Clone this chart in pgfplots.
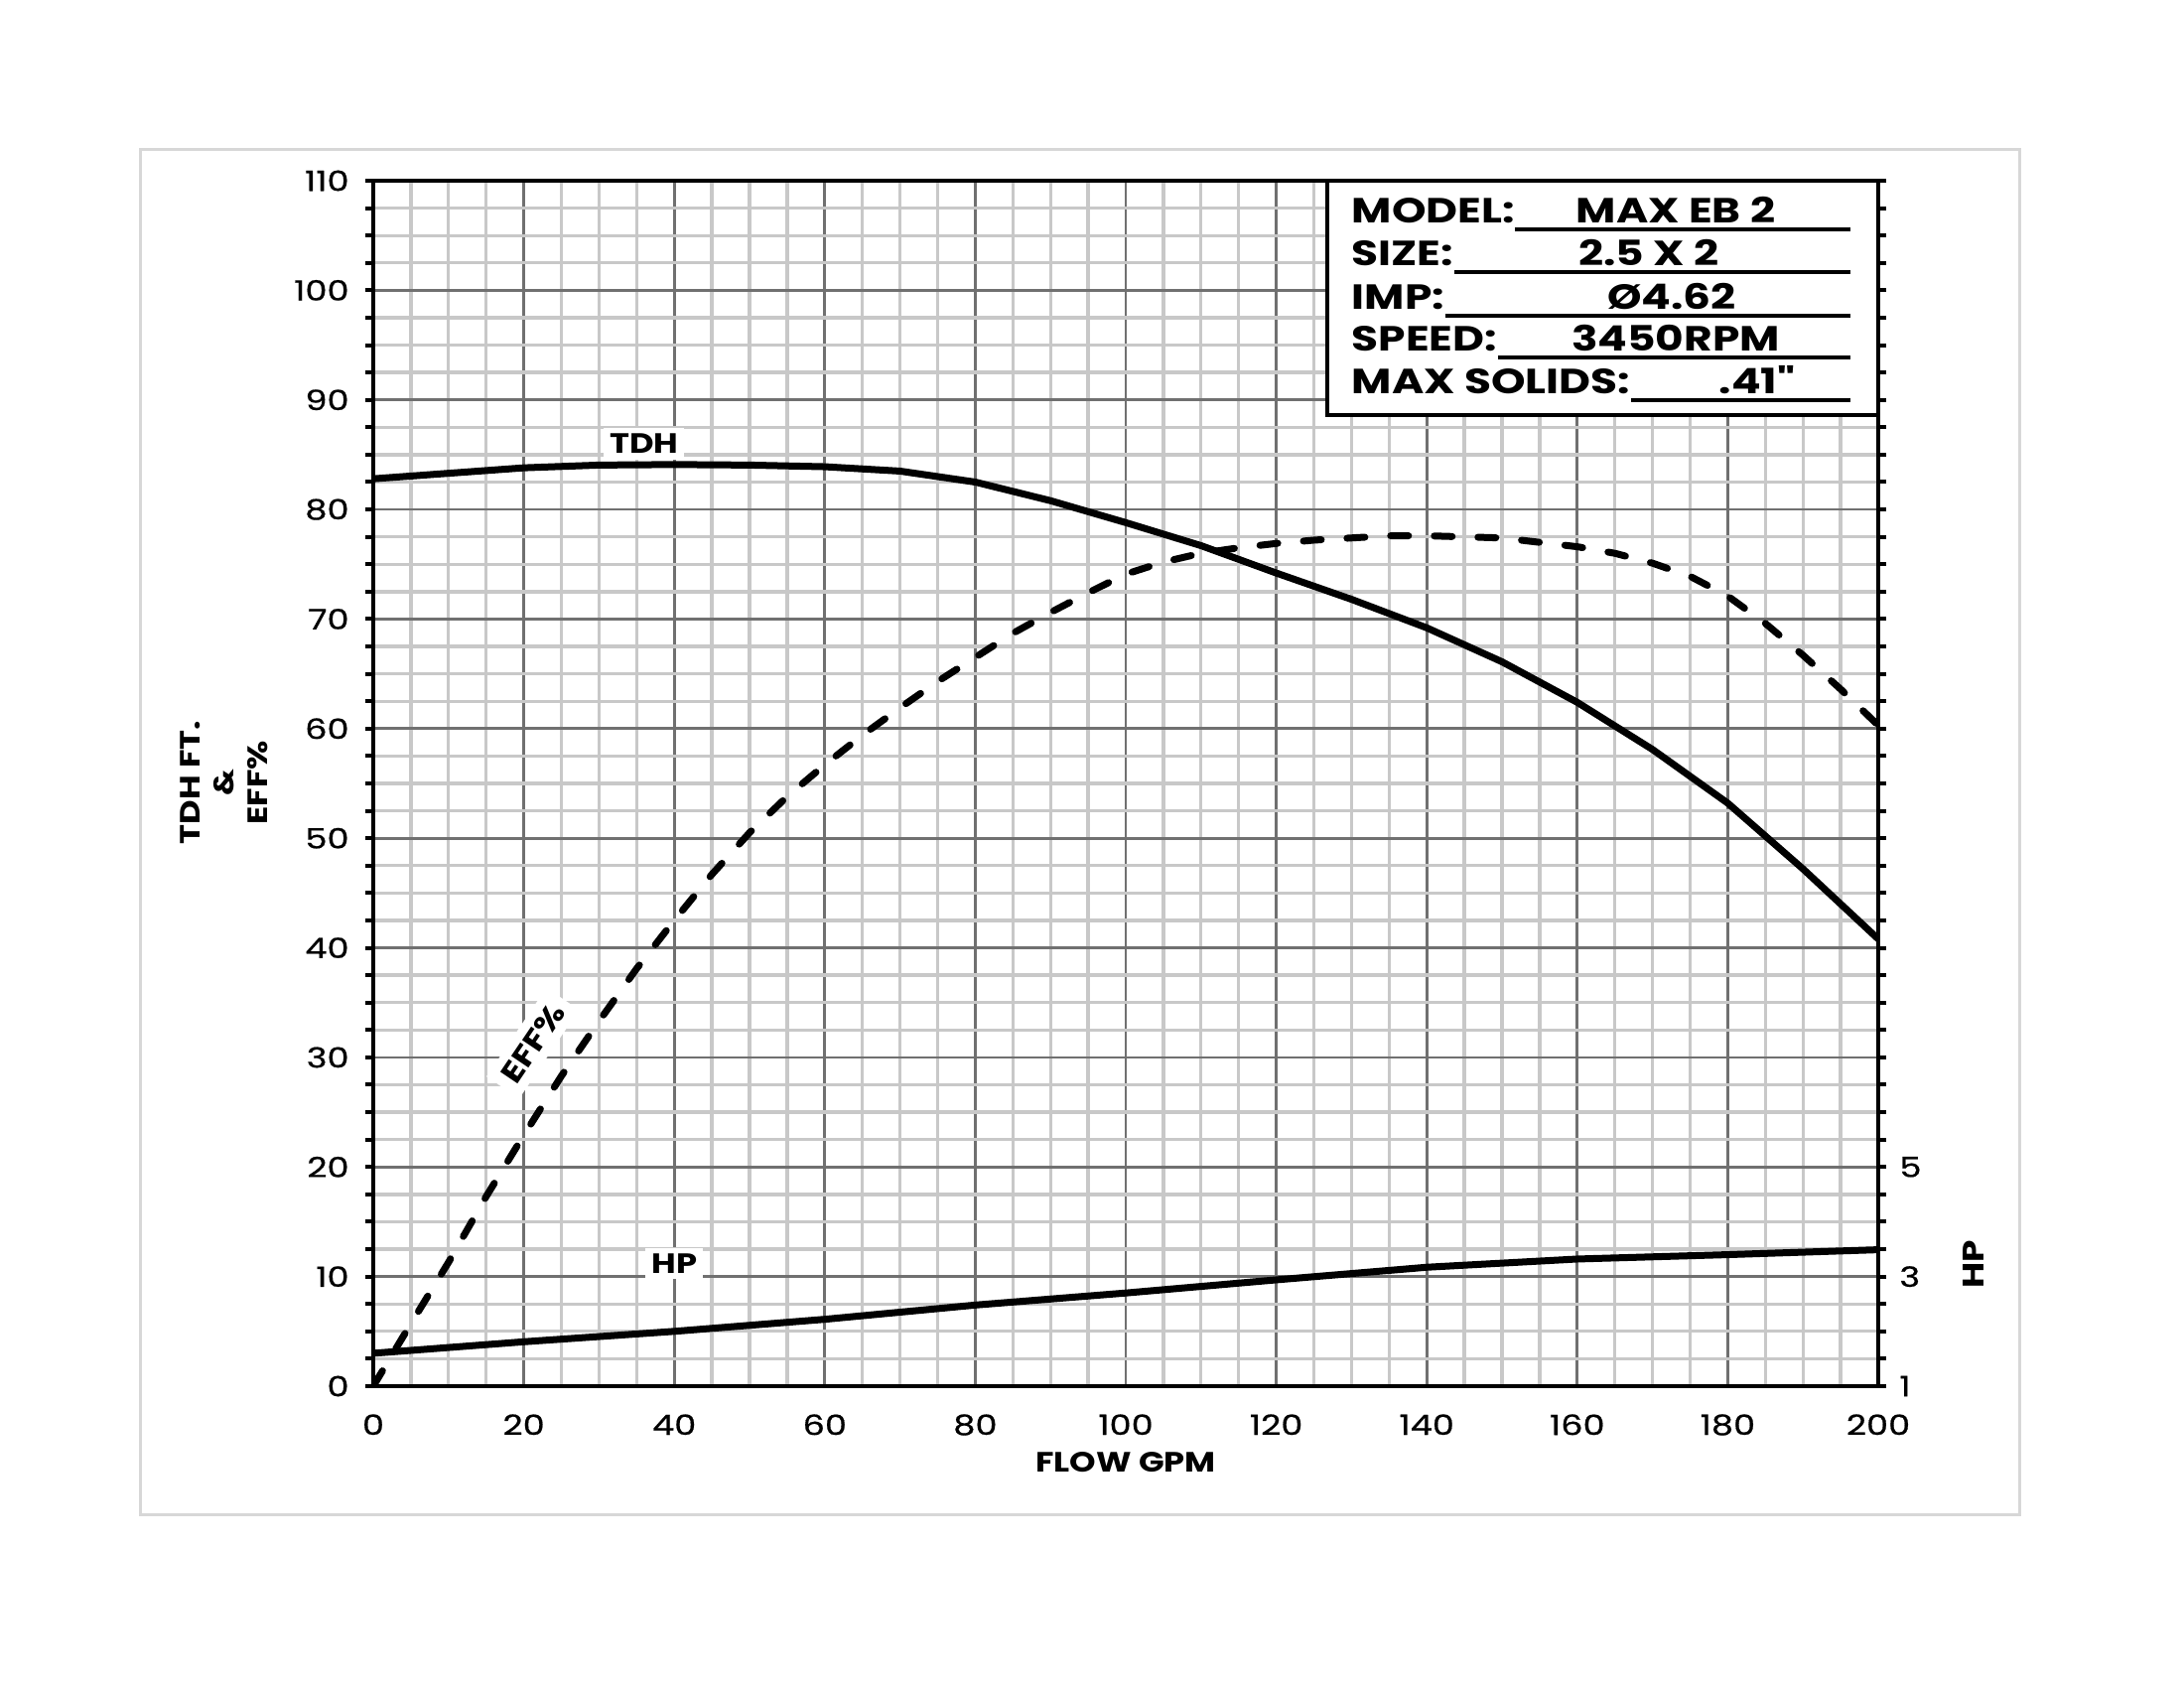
\documentclass[border=0pt]{standalone}
\usepackage{fontspec}
\setmainfont{Poppins}
\newfontfamily\wide[FakeStretch=1.2]{Poppins}
\newfontfamily\wider[FakeStretch=1.25]{Poppins}
\newfontfamily\tickf[FakeStretch=1.25, FakeBold=0.6]{Poppins}
\usepackage{pgfplots}
\pgfplotsset{compat=1.18}
\usetikzlibrary{calc}
\definecolor{gmaj}{RGB}{112,112,112}
\definecolor{gmin}{RGB}{200,200,200}
\definecolor{framec}{RGB}{215,215,215}

\pgfplotstableread{
x y
0 82.8
10 83.3
20 83.8
30 84.05
40 84.1
50 84.05
60 83.9
70 83.5
80 82.5
90 80.8
100 78.8
110 76.7
120 74.2
130 71.8
140 69.2
150 66.1
160 62.4
170 58.1
180 53.2
190 47.2
200 40.8
}\tdh

\pgfplotstableread{
x y
0 0
5 5.7
10 11.3
15 17.3
20 22.9
25 28.3
30 33.3
35 38.1
40 42.5
45 46.7
50 50.5
55 53.8
60 56.7
65 59.4
70 61.9
75 64.3
80 66.5
85 68.7
90 70.6
95 72.4
100 74.1
105 75.2
110 76.0
115 76.5
120 76.9
125 77.2
130 77.4
135 77.6
140 77.6
145 77.5
150 77.4
155 77.0
160 76.6
165 76.0
170 75.1
175 73.9
180 72.1
185 69.6
190 66.7
195 63.6
200 60.3
}\eff

\pgfplotstableread{
x y
0 1.60
20 1.81
40 2.00
60 2.22
80 2.48
100 2.70
120 2.94
140 3.17
160 3.32
180 3.40
200 3.49
}\hp

\begin{document}
\begin{tikzpicture}
\path[use as bounding box] (0,0) rectangle (22cm,17cm);
\begin{scope}[shift={(0,17cm)}, x=0.1mm, y=-0.1mm]
\draw[framec, line width=0.3mm] (141,151) rectangle (2034,1525);
\end{scope}

\begin{axis}[
  at={(3.76cm,3.04cm)}, anchor=south west, scale only axis,
  width=15.16cm, height=12.14cm,
  xmin=0, xmax=200, ymin=0, ymax=110,
  xtick={0,20,...,200}, minor x tick num=3,
  ytick={0,10,...,110}, minor y tick num=3,
  grid=both,
  major grid style={draw=gmaj, line width=0.28mm},
  minor grid style={draw=gmin, line width=0.33mm},
  axis line style={black, line width=0.4mm},
  tick align=outside,
  ytick pos=both, yticklabel pos=left,
  major tick length=0.8mm, minor tick length=0.8mm,
  every tick/.style={black, line width=0.4mm},
  x tick style={draw=none},
  ticklabel style={font=\tickf\fontsize{8}{9}\selectfont},
  /pgf/number format/assume math mode=true,
  xticklabel style={yshift=-0.8mm},
  yticklabel style={xshift=-0.4mm},
]
\addplot[black, line width=0.7mm] table[x=x,y=y] {\tdh};
\addplot[black, line width=0.7mm, line cap=round, dash pattern=on 1.8mm off 2.6mm] table[x=x,y=y] {\eff};
\node[fill=white, inner sep=0.6mm, font=\wide\bfseries\fontsize{8}{9}\selectfont] at (axis cs:36,86.0) {TDH};
\node[fill=white, inner sep=0.6mm, font=\wide\bfseries\fontsize{8}{9}\selectfont] at (axis cs:40,11.2) {HP};
\node[fill=white, inner sep=0.9mm, rotate=56, font=\wide\bfseries\fontsize{8.5}{9}\selectfont] at (axis cs:21.2,31.3) {EFF\%};
\end{axis}

\begin{axis}[
  at={(3.76cm,3.04cm)}, anchor=south west, scale only axis,
  width=15.16cm, height=12.14cm,
  xmin=0, xmax=200, ymin=1, ymax=23,
  hide x axis, axis y line*=right,
  ytick={1,3,5},
  axis line style={black, line width=0.4mm},
  major tick length=0.8mm,
  ytick style={draw=none},
  ticklabel style={font=\tickf\fontsize{8}{9}\selectfont},
  /pgf/number format/assume math mode=true,
  yticklabel style={xshift=0.9mm},
]
\addplot[black, line width=0.7mm] table[x=x,y=y] {\hp};
\end{axis}

\begin{scope}[shift={(0,17cm)}, x=0.1mm, y=-0.1mm]
% axis titles
\node[font=\wide\bfseries\fontsize{8}{9}\selectfont] at (1134,1473) {FLOW GPM};
\node[rotate=90, font=\wide\bfseries\fontsize{8.5}{9}\selectfont] at (1988,1273) {HP};
\node[rotate=90, align=center, font=\wide\bfseries\fontsize{8}{9.7}\selectfont] at (226,788) {TDH FT.\\\&\\EFF\%};
% info box
\draw[line width=0.4mm, fill=white] (1337,182) rectangle (1892,418);
\coordinate (R) at (1864,0);
\begin{scope}[every node/.style={inner sep=0pt, font=\wider\bfseries\fontsize{10}{12}\selectfont}]
\node[anchor=base west] (l1) at (1361,225) {MODEL:};
\node[anchor=base west] (l2) at (1361,268) {SIZE:};
\node[anchor=base west] (l3) at (1361,312) {IMP:};
\node[anchor=base west] (l4) at (1361,354) {SPEED:};
\node[anchor=base west] (l5) at (1361,397) {MAX SOLIDS:};
\node[anchor=base] at (1688,225) {MAX EB 2};
\node[anchor=base] at (1661,268) {2.5 X 2};
\node[anchor=base] at (1684,312) {Ø4.62};
\node[anchor=base] at (1688,354) {3450RPM};
\node[anchor=base] at (1770,397) {.41"};
\end{scope}
\foreach \n in {l1,l2,l3,l4,l5}{
  \draw[line width=0.33mm] ([yshift=-0.6mm]\n.base east) -- ([yshift=-0.6mm]\n.base east -| R);
}
\end{scope}
\end{tikzpicture}
\end{document}
